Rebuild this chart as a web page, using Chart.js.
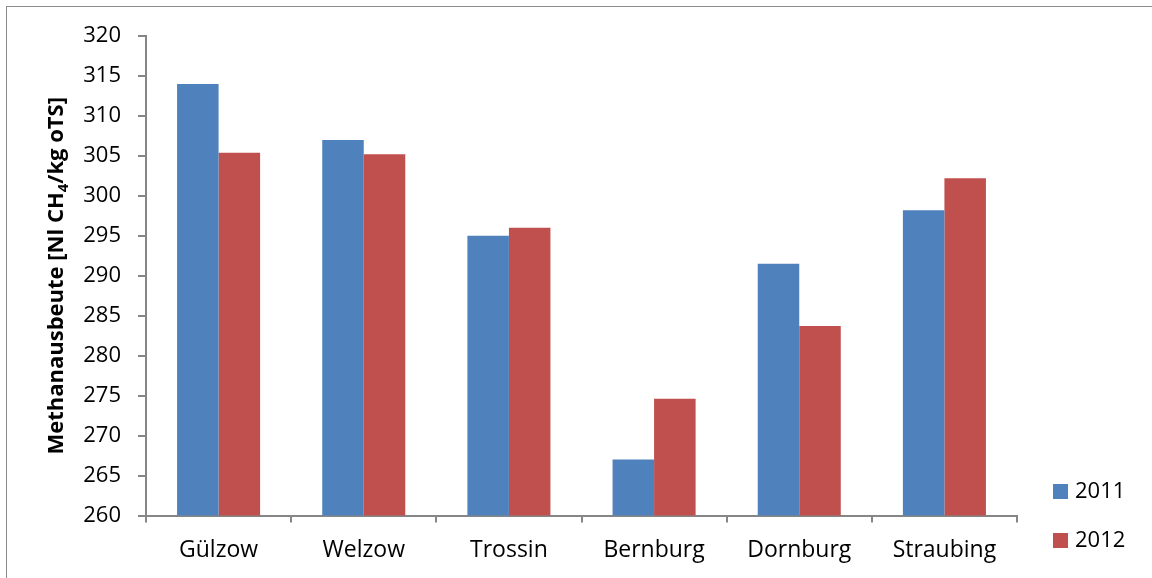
<!DOCTYPE html>
<html>
<head>
<meta charset="utf-8">
<script src="https://cdn.jsdelivr.net/npm/chart.js@4"></script>
<style>
  html, body { margin: 0; padding: 0; background: #ffffff; }
  #wrap { width: 1152px; height: 578px; }
</style>
</head>
<body>
<div id="wrap"><canvas id="c" width="1152" height="578"></canvas></div>
<script>
// Methane yield per site, two harvest years
const sites = ['Gülzow', 'Welzow', 'Trossin', 'Bernburg', 'Dornburg', 'Straubing'];
const yield2011 = [314.0, 307.0, 295.0, 267.0, 291.5, 298.2];
const yield2012 = [305.4, 305.2, 296.0, 274.6, 283.7, 302.2];
const seriesNames = ['2011', '2012'];
const yMin = 260, yMax = 320, yStep = 5;

const BLUE = '#4F81BD';
const RED = '#C0504D';
const AXIS = '#868686';
const FONT = '"Open Sans", "Noto Sans", sans-serif';

// frame, rotated axis title with subscript, and legend at the right
const decorations = {
  id: 'decorations',
  beforeDraw(chart) {
    const ctx = chart.ctx;
    ctx.save();
    ctx.fillStyle = '#ffffff';
    ctx.fillRect(0, 0, chart.width, chart.height);
    ctx.strokeStyle = '#8c8c8c';
    ctx.lineWidth = 1;
    ctx.strokeRect(6.5, 6.5, chart.width + 20, chart.height + 20);
    ctx.restore();
  },
  afterDraw(chart) {
    const ctx = chart.ctx;
    const area = chart.chartArea;

    // y axis title
    ctx.save();
    const main = 'bold 22px ' + FONT;
    const sub = 'bold 15px ' + FONT;
    const parts = [
      { t: 'Methanausbeute [Nl CH', f: main, dy: 0 },
      { t: '4', f: sub, dy: 5 },
      { t: '/kg oTS]', f: main, dy: 0 }
    ];
    let total = 0;
    parts.forEach(p => { ctx.font = p.f; p.w = ctx.measureText(p.t).width; total += p.w; });
    const cy = (area.top + area.bottom) / 2;
    ctx.translate(63, cy);
    ctx.rotate(-Math.PI / 2);
    ctx.fillStyle = '#000000';
    ctx.textBaseline = 'alphabetic';
    ctx.textAlign = 'left';
    let x = -total / 2;
    parts.forEach(p => { ctx.font = p.f; ctx.fillText(p.t, x, p.dy); x += p.w; });
    ctx.restore();

    // legend
    ctx.save();
    ctx.font = '22px ' + FONT;
    ctx.textBaseline = 'middle';
    ctx.textAlign = 'left';
    chart.data.datasets.forEach((ds, i) => {
      const y = 484 + i * 49;
      ctx.fillStyle = ds.backgroundColor;
      ctx.fillRect(1053, y, 15, 15);
      ctx.fillStyle = '#000000';
      ctx.fillText(ds.label, 1075, y + 8);
    });
    ctx.restore();
  }
};

new Chart(document.getElementById('c'), {
  type: 'bar',
  data: {
    labels: sites,
    datasets: [
      { label: seriesNames[0], data: yield2011, backgroundColor: BLUE },
      { label: seriesNames[1], data: yield2012, backgroundColor: RED }
    ]
  },
  options: {
    responsive: false,
    animation: false,
    layout: { padding: { left: 0, top: 36, right: 135, bottom: 0 } },
    datasets: { bar: { categoryPercentage: 0.572, barPercentage: 1.0 } },
    plugins: {
      legend: { display: false },
      tooltip: { enabled: false }
    },
    scales: {
      x: {
        offset: true,
        grid: { display: true, drawOnChartArea: false, drawTicks: true, tickLength: 7, color: AXIS, offset: true, lineWidth: 2 },
        border: { display: true, color: AXIS, width: 2 },
        ticks: { color: '#000000', font: { family: FONT, size: 23 }, padding: 14, maxRotation: 0 },
        afterFit(scale) { scale.height = 62.5; }
      },
      y: {
        min: yMin,
        max: yMax,
        grid: { display: true, drawOnChartArea: false, drawTicks: true, tickLength: 8, color: AXIS, lineWidth: 2 },
        border: { display: true, color: AXIS, width: 2 },
        ticks: { stepSize: yStep, color: '#000000', font: { family: FONT, size: 22 }, padding: 17 },
        afterFit(scale) { scale.width = 146; }
      }
    }
  },
  plugins: [decorations]
});
</script>
</body>
</html>
